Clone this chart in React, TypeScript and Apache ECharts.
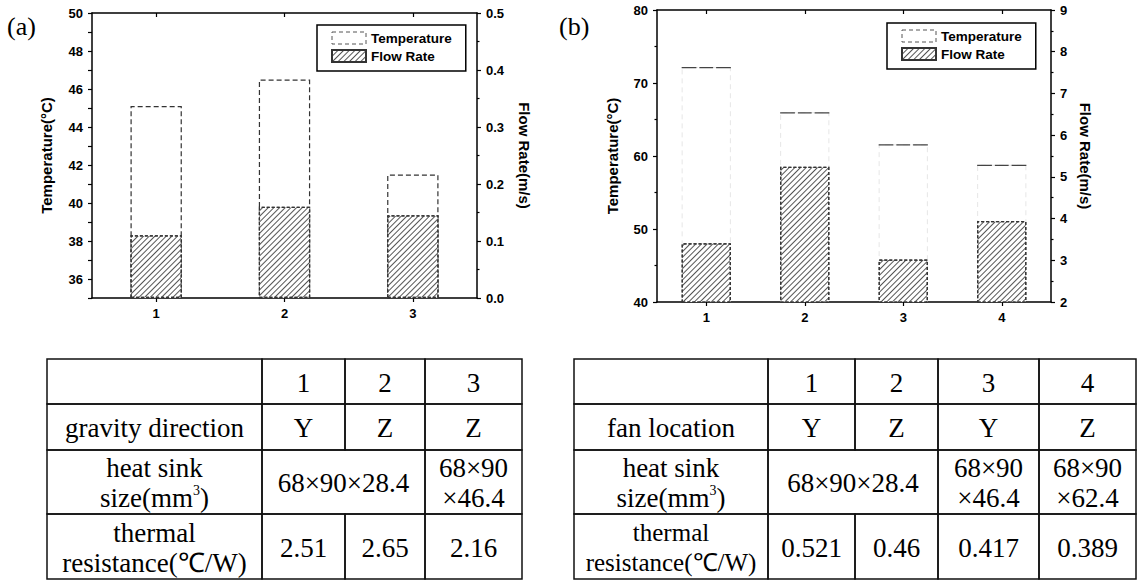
import React, { useEffect, useRef } from 'react';
import * as echarts from 'echarts';

// ---------- data ----------
const categoriesA = ['1', '2', '3'];
const temperatureA = [45.1, 46.5, 41.5];
const flowRateA = [0.11, 0.16, 0.145];

const categoriesB = ['1', '2', '3', '4'];
const temperatureB = [72.2, 66.0, 61.6, 58.8];
const flowRateB = [3.41, 5.24, 3.02, 3.94];

const legendNames = ['Temperature', 'Flow Rate'];

// table cells; null = merged into the cell on its left
const tableARows: (string | null)[][] = [
  ['', '1', '2', '3'],
  ['gravity direction', 'Y', 'Z', 'Z'],
  ['heat sink\nsize(mm{sup|3})', '68×90×28.4', null, '68×90\n×46.4'],
  ['thermal\nresistance(℃/W)', '2.51', '2.65', '2.16'],
];
const tableBRows: (string | null)[][] = [
  ['', '1', '2', '3', '4'],
  ['fan location', 'Y', 'Z', 'Y', 'Z'],
  ['heat sink\nsize(mm{sup|3})', '68×90×28.4', null, '68×90\n×46.4', '68×90\n×62.4'],
  ['thermal\nresistance(℃/W)', '0.521', '0.46', '0.417', '0.389'],
];

// ---------- layout ----------
const colsA = [47, 262, 345, 425, 522];
const colsB = [574, 768, 855, 938, 1039, 1136];
const rowsY = [359, 404, 450, 514, 579];

const SERIF = 'Liberation Serif';
const SANS = 'Liberation Sans';

function buildTable(rows: (string | null)[][], cols: number[]) {
  const els: any[] = [];
  rows.forEach((row, r) => {
    let c = 0;
    while (c < row.length) {
      let span = 1;
      while (c + span < row.length && row[c + span] === null) span++;
      const x0 = cols[c];
      const x1 = cols[c + span];
      const y0 = rowsY[r];
      const y1 = rowsY[r + 1];
      els.push({
        type: 'rect',
        shape: { x: x0, y: y0, width: x1 - x0, height: y1 - y0 },
        style: { fill: 'none', stroke: '#111', lineWidth: 1.5 },
        silent: true,
      });
      const txt = row[c] as string;
      if (txt) {
        const small = txt.indexOf('resistance') >= 0 && cols.length > 5;
        els.push({
          type: 'text',
          x: (x0 + x1) / 2,
          y: (y0 + y1) / 2 + 1,
          silent: true,
          style: {
            text: txt,
            fontSize: small ? 25 : 27,
            fontFamily: SERIF,
            fill: '#000',
            align: 'center',
            verticalAlign: 'middle',
            textAlign: 'center',
            textVerticalAlign: 'middle',
            lineHeight: 30,
            rich: {
              sup: { fontSize: 14, fontFamily: SERIF, fill: '#000', verticalAlign: 'top', lineHeight: 14 },
            },
          },
        });
      }
      c += span;
    }
  });
  return els;
}

const labelStyle = { color: '#000', fontWeight: 'bold' as const, fontSize: 13, fontFamily: SANS };
const axisLine = { show: true, onZero: false, lineStyle: { color: '#000', width: 1.5 } };
const tickStyle = { color: '#000', width: 1.2 };
const nameStyle = { color: '#000', fontWeight: 'bold' as const, fontSize: 15, fontFamily: SANS };

const hatch = {
  symbol: 'rect',
  symbolSize: 1,
  color: '#555',
  dashArrayX: [1, 0],
  dashArrayY: [1, 2.6],
  rotation: -Math.PI / 4,
};

function xAxes(gridIndex: number, data: string[]) {
  return [
    {
      type: 'category',
      gridIndex,
      data,
      position: 'bottom',
      axisLine,
      axisTick: { show: true, alignWithLabel: true, length: 4, lineStyle: tickStyle },
      axisLabel: { ...labelStyle, margin: 9 },
      splitLine: { show: false },
    },
    {
      type: 'category',
      gridIndex,
      data,
      position: 'top',
      axisLine,
      axisTick: { show: true, alignWithLabel: true, inside: true, length: 4, lineStyle: tickStyle },
      axisLabel: { show: false },
      splitLine: { show: false },
    },
  ];
}

function legend(left: number, top: number) {
  return {
    left,
    top,
    orient: 'vertical',
    data: [
      { name: legendNames[0], icon: 'rect', itemStyle: { color: '#fff', borderColor: '#555', borderWidth: 1, borderType: [4, 3] } },
      { name: legendNames[1], icon: 'rect' },
    ],
    itemWidth: 34,
    itemHeight: 12,
    itemGap: 4,
    padding: [6, 14, 8, 14],
    borderColor: '#000',
    borderWidth: 1.5,
    selectedMode: false,
    textStyle: { ...labelStyle, fontSize: 13.5 },
  };
}

export default function App() {
  const ref = useRef<HTMLDivElement>(null);
  useEffect(() => {
    document.body.style.margin = '0';
    if (!ref.current) return;
    const chart = echarts.init(ref.current, undefined, { renderer: 'svg' });
    const option: any = {
      animation: false,
      backgroundColor: '#fff',
      textStyle: { fontFamily: SANS },
      grid: [
        { left: 92, top: 13, width: 385, height: 285 },
        { left: 657, top: 10, width: 394, height: 292 },
      ],
      legend: [legend(317, 25), legend(887, 23)],
      xAxis: [...xAxes(0, categoriesA), ...xAxes(1, categoriesB)],
      yAxis: [
        {
          type: 'value',
          gridIndex: 0,
          position: 'left',
          min: 35,
          max: 50,
          interval: 1,
          axisLine,
          axisTick: { show: true, length: 4, lineStyle: tickStyle },
          axisLabel: { ...labelStyle, margin: 9, formatter: (v: number) => (v % 2 === 0 ? String(v) : '') },
          splitLine: { show: false },
          name: 'Temperature(°C)',
          nameLocation: 'middle',
          nameRotate: 90,
          nameGap: 38,
          nameTextStyle: nameStyle,
        },
        {
          type: 'value',
          gridIndex: 0,
          position: 'right',
          min: 0,
          max: 0.5,
          interval: 0.1,
          axisLine,
          axisTick: { show: true, length: 4, lineStyle: tickStyle },
          minorTick: { show: true, splitNumber: 2, length: 2.5, lineStyle: tickStyle },
          axisLabel: { ...labelStyle, margin: 9, formatter: (v: number) => v.toFixed(1) },
          splitLine: { show: false },
          name: 'Flow Rate(m/s)',
          nameLocation: 'middle',
          nameRotate: -90,
          nameGap: 40,
          nameTextStyle: nameStyle,
        },
        {
          type: 'value',
          gridIndex: 1,
          position: 'left',
          min: 40,
          max: 80,
          interval: 10,
          axisLine,
          axisTick: { show: true, length: 4, lineStyle: tickStyle },
          minorTick: { show: true, splitNumber: 2, length: 2.5, lineStyle: tickStyle },
          axisLabel: { ...labelStyle, margin: 9 },
          splitLine: { show: false },
          name: 'Temperature(°C)',
          nameLocation: 'middle',
          nameRotate: 90,
          nameGap: 37,
          nameTextStyle: nameStyle,
        },
        {
          type: 'value',
          gridIndex: 1,
          position: 'right',
          min: 2,
          max: 9,
          interval: 1,
          axisLine,
          axisTick: { show: true, length: 4, lineStyle: tickStyle },
          minorTick: { show: true, splitNumber: 2, length: 2.5, lineStyle: tickStyle },
          axisLabel: { ...labelStyle, margin: 9 },
          splitLine: { show: false },
          name: 'Flow Rate(m/s)',
          nameLocation: 'middle',
          nameRotate: -90,
          nameGap: 27,
          nameTextStyle: nameStyle,
        },
      ],
      series: [
        {
          name: 'Temperature',
          type: 'bar',
          xAxisIndex: 0,
          yAxisIndex: 0,
          data: temperatureA,
          barWidth: '40%',
          barGap: '-100%',
          itemStyle: { color: '#fff', borderColor: '#333', borderWidth: 1.2, borderType: [5, 3] },
        },
        {
          name: 'Flow Rate',
          type: 'bar',
          xAxisIndex: 0,
          yAxisIndex: 1,
          data: flowRateA,
          barWidth: '40%',
          barGap: '-100%',
          itemStyle: { color: '#fff', borderColor: '#333', borderWidth: 1.2, borderType: [3, 2], decal: hatch },
        },
        {
          name: 'Temperature',
          type: 'bar',
          xAxisIndex: 2,
          yAxisIndex: 2,
          data: temperatureB,
          barWidth: '50%',
          barGap: '-100%',
          itemStyle: { color: '#fff', borderColor: 'rgba(0,0,0,0.1)', borderWidth: 1, borderType: [5, 4] },
        },
        {
          name: 'Flow Rate',
          type: 'bar',
          xAxisIndex: 2,
          yAxisIndex: 3,
          data: flowRateB,
          barWidth: '50%',
          barGap: '-100%',
          itemStyle: { color: '#fff', borderColor: '#333', borderWidth: 1.2, borderType: [3, 2], decal: hatch },
        },
        {
          name: 'Temperature',
          type: 'pictorialBar',
          xAxisIndex: 2,
          yAxisIndex: 2,
          data: temperatureB,
          barWidth: '50%',
          symbol: 'path://M0,0H15V1H0Z M18,0H32V1H18Z M35,0H50V1H35Z',
          symbolSize: ['100%', 1.2],
          symbolPosition: 'end',
          itemStyle: { color: '#444' },
          z: 5,
        },
      ],
      graphic: [
        {
          type: 'text',
          x: 7,
          y: 26,
          silent: true,
          style: { text: '(a)', fontSize: 26, fontFamily: SERIF, fill: '#000', align: 'left', verticalAlign: 'middle', textAlign: 'left', textVerticalAlign: 'middle' },
        },
        {
          type: 'text',
          x: 559,
          y: 26,
          silent: true,
          style: { text: '(b)', fontSize: 26, fontFamily: SERIF, fill: '#000', align: 'left', verticalAlign: 'middle', textAlign: 'left', textVerticalAlign: 'middle' },
        },
        ...buildTable(tableARows, colsA),
        ...buildTable(tableBRows, colsB),
      ],
    };
    chart.setOption(option);
    return () => chart.dispose();
  }, []);
  return <div ref={ref} style={{ width: 1137, height: 581 }} />;
}
